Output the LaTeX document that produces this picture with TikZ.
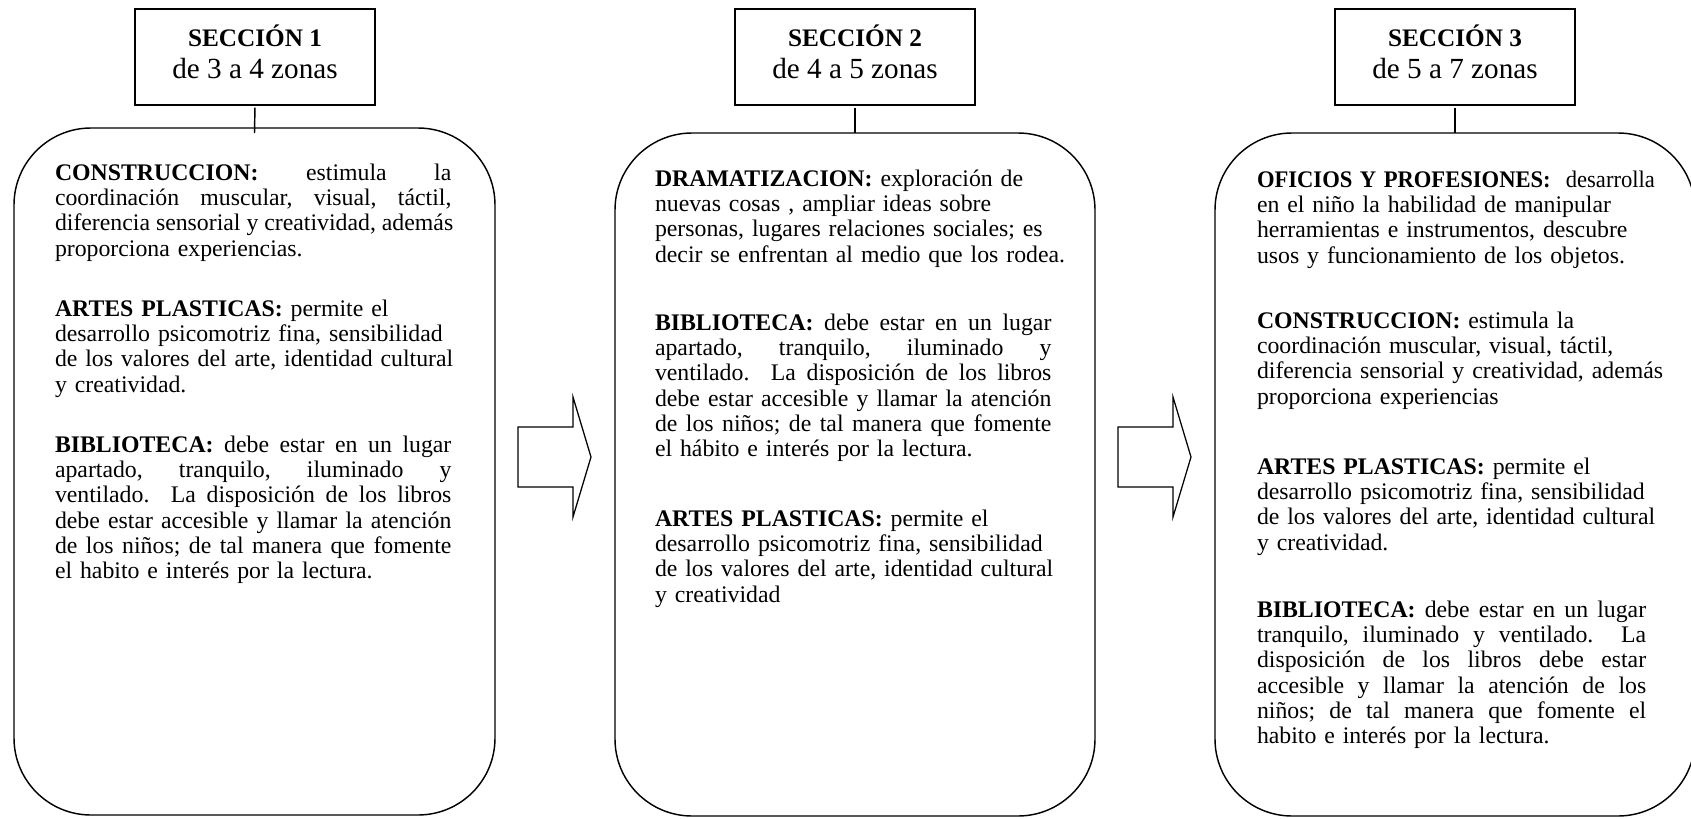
\documentclass[tikz,border=0pt]{standalone}
\usepackage{fontspec}
\usepackage{graphicx}
\setmainfont{Liberation Serif}
\newlength\tw
\setlength\tw{220pt}
\newcommand\J[2][\tw]{\leavevmode\hbox to #1{\frenchspacing\spaceskip=0.25em plus 1fil\relax #2}}
\newcommand\N[1]{\mbox{#1}}
\newcommand\bodyfont{\fontsize{13.2}{14.07}\selectfont}
\tikzset{
  tbox/.style={draw, line width=0.95pt, inner sep=0pt, outer sep=0pt,
    minimum width=240*0.555pt, minimum height=96*0.555pt},
  ttext/.style={inner sep=0pt, align=center, font=\fontsize{16.2}{17.8}\selectfont},
  bigbox/.style={draw, line width=0.8pt, inner sep=0pt, outer sep=0pt,
    rounded corners=77*0.555pt, minimum width=480*0.555pt},
  link/.style={draw, line width=0.8pt},
  blockarrow/.style={draw, line width=0.7pt, line join=miter},
  para/.style={anchor=north west, inner sep=0pt, outer sep=0pt, align=left,
    text width=\tw, font=\bodyfont}
}
\begin{document}
\begin{tikzpicture}[x=0.555pt, y=-0.555pt]
\useasboundingbox (0,0) rectangle (1691,818);
\fill[white] (0,0) rectangle (1691,818);

% title boxes
\node[tbox] (t1) at (255,57) {};
\node[tbox] (t2) at (855,57) {};
\node[tbox] (t3) at (1455,57) {};
\node[ttext] (t1l) at (255,51.5) {{\fontsize{14}{17.8}\selectfont\bfseries SECCIÓN 1}\\de 3 a 4 zonas};
\node[ttext] (t2l) at (855,51.5) {{\fontsize{14}{17.8}\selectfont\bfseries SECCIÓN 2}\\de 4 a 5 zonas};
\node[ttext] (t3l) at (1455,51.5) {{\fontsize{14}{17.8}\selectfont\bfseries SECCIÓN 3}\\de 5 a 7 zonas};

% big rounded boxes
\node[bigbox, minimum width=481*0.555pt, minimum height=687*0.555pt] (b1) at (254.5,471.5) {};
\node[bigbox, minimum height=683*0.555pt] (b2) at (855,474.5) {};
\node[bigbox, minimum height=683*0.555pt] (b3) at (1455,474.5) {};

% connectors
\draw[link, shorten <=1.5pt] (t1.south) -- ([yshift=-2.8pt]b1.north);
\draw[link, shorten <=1.5pt] (t2.south) -- (b2.north);
\draw[link, shorten <=1.5pt] (t3.south) -- (b3.north);

% block arrows
\draw[blockarrow] (518,427) -- (573,427) -- (573,397) -- (591,457) -- (573,517) -- (573,487) -- (518,487) -- cycle;
\draw[blockarrow] (1118,427) -- (1173,427) -- (1173,397) -- (1191,457) -- (1173,517) -- (1173,487) -- (1118,487) -- cycle;

% section 1 texts
\node[para] (p11) at (55,162.3) {\strut\J{\textbf{CONSTRUCCION:} estimula la}\\
\J{coordinación muscular, visual, táctil,}\\
\J{diferencia sensorial y creatividad, además}\\
\N{proporciona experiencias.}};
\node[para] (p12) at (55,298.3) {\strut\N{\textbf{ARTES PLASTICAS:} permite el}\\
\N{desarrollo psicomotriz fina, sensibilidad}\\
\N{de los valores del arte, identidad cultural}\\
\N{y creatividad.}};
\node[para] (p13) at (55,434.3) {\strut\J{\textbf{BIBLIOTECA:} debe estar en un lugar}\\
\J{apartado, tranquilo, iluminado y}\\
\J{ventilado.\ \ La disposición de los libros}\\
\J{debe estar accesible y llamar la atención}\\
\J{de los niños; de tal manera que fomente}\\
\N{el habito e interés por la lectura.}};

% section 2 texts
\node[para] (p21) at (655,168.3) {\strut\N{\textbf{DRAMATIZACION:} exploración de}\\
\N{nuevas cosas , ampliar ideas sobre}\\
\N{personas, lugares relaciones sociales; es}\\
\N{decir se enfrentan al medio que los rodea.}};
\node[para] (p22) at (655,312.3) {\strut\J{\textbf{BIBLIOTECA:} debe estar en un lugar}\\
\J{apartado, tranquilo, iluminado y}\\
\J{ventilado.\ \ La disposición de los libros}\\
\J{debe estar accesible y llamar la atención}\\
\J{de los niños; de tal manera que fomente}\\
\N{el hábito e interés por la lectura.}};
\node[para] (p23) at (655,508.3) {\strut\N{\textbf{ARTES PLASTICAS:} permite el}\\
\N{desarrollo psicomotriz fina, sensibilidad}\\
\N{de los valores del arte, identidad cultural}\\
\N{y creatividad}};

% section 3 texts
\node[para] (p31) at (1257,169.3) {\strut\scalebox{0.95}[1]{\textbf{OFICIOS Y PROFESIONES:}\ \ desarrolla}\\
\N{en el niño la habilidad de manipular}\\
\N{herramientas e instrumentos, descubre}\\
\N{usos y funcionamiento de los objetos.}};
\node[para] (p32) at (1257,310.3) {\strut\N{\textbf{CONSTRUCCION:} estimula la}\\
\N{coordinación muscular, visual, táctil,}\\
\N{diferencia sensorial y creatividad, además}\\
\N{proporciona experiencias}};
\node[para] (p33) at (1257,456.3) {\strut\N{\textbf{ARTES PLASTICAS:} permite el}\\
\N{desarrollo psicomotriz fina, sensibilidad}\\
\N{de los valores del arte, identidad cultural}\\
\N{y creatividad.}};
\node[para] (p34) at (1257,599.3) {\strut\J[216pt]{\textbf{BIBLIOTECA:} debe estar en un lugar}\\
\J[216pt]{tranquilo, iluminado y ventilado.\ \ La}\\
\J[216pt]{disposición de los libros debe estar}\\
\J[216pt]{accesible y llamar la atención de los}\\
\J[216pt]{niños; de tal manera que fomente el}\\
\N{habito e interés por la lectura.}};
\end{tikzpicture}
\end{document}
